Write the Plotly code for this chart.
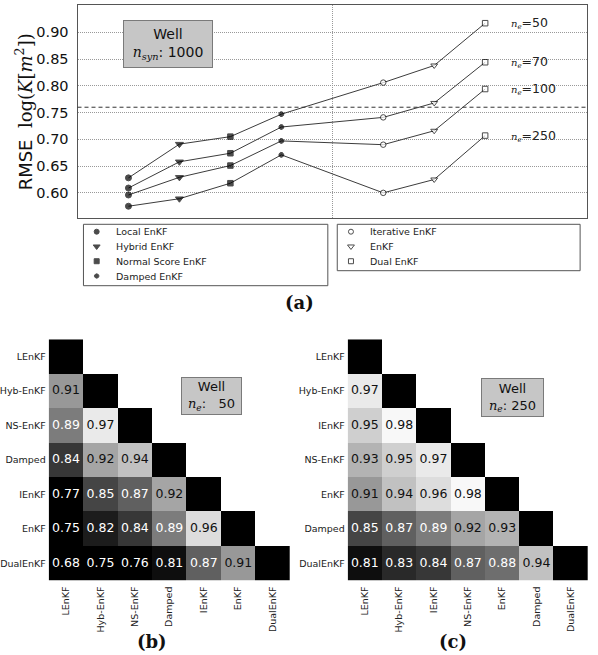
import plotly.graph_objects as go

# tamanho da figura (px)
W, H = 598, 655

# Painel (a): RMSE de log(K) por metodo, para cada tamanho de ensemble
metodos = ["Local EnKF", "Hybrid EnKF", "Normal Score EnKF", "Damped EnKF",
           "Iterative EnKF", "EnKF", "Dual EnKF"]
posicao_x = [1, 2, 3, 4, 6, 7, 8]
rotulos_ne = ["50", "70", "100", "250"]
rmse_ne50 = [0.628, 0.691, 0.705, 0.747, 0.806, 0.838, 0.917]
rmse_ne70 = [0.609, 0.658, 0.674, 0.723, 0.741, 0.768, 0.844]
rmse_ne100 = [0.596, 0.629, 0.651, 0.697, 0.690, 0.716, 0.794]
rmse_ne250 = [0.575, 0.589, 0.618, 0.671, 0.600, 0.625, 0.707]
rmse_referencia = 0.76
n_syn = 1000

# Painel (b): correlacao entre metodos, ne = 50 (triangulo inferior)
nomes_b = ["LEnKF", "Hyb-EnKF", "NS-EnKF", "Damped", "IEnKF", "EnKF", "DualEnKF"]
corr_b = [[0.91],
          [0.89, 0.97],
          [0.84, 0.92, 0.94],
          [0.77, 0.85, 0.87, 0.92],
          [0.75, 0.82, 0.84, 0.89, 0.96],
          [0.68, 0.75, 0.76, 0.81, 0.87, 0.91]]

# Painel (c): correlacao entre metodos, ne = 250
nomes_c = ["LEnKF", "Hyb-EnKF", "IEnKF", "NS-EnKF", "EnKF", "Damped", "DualEnKF"]
corr_c = [[0.97],
          [0.95, 0.98],
          [0.93, 0.95, 0.97],
          [0.91, 0.94, 0.96, 0.98],
          [0.85, 0.87, 0.89, 0.92, 0.93],
          [0.81, 0.83, 0.84, 0.87, 0.88, 0.94]]


def px(x):
    return x / W


def py(y):
    return 1 - y / H


# estilo dos marcadores (cheio = primeiros 4 metodos, vazado = ultimos 3)
simbolos = ["circle", "triangle-down", "square", "octagon",
            "circle", "triangle-down", "square"]
tamanhos = [6, 7, 5.5, 5, 5.5, 6, 5.5]
cores_marc = ["black"] * 4 + ["white"] * 3

fig = go.Figure()

series = [rmse_ne50, rmse_ne70, rmse_ne100, rmse_ne250]
for rot, vals in zip(rotulos_ne, series):
    fig.add_trace(go.Scatter(
        x=posicao_x, y=vals, mode="lines+markers", name="ne=" + rot,
        line=dict(color="#3c3c3c", width=1),
        marker=dict(symbol=simbolos, size=tamanhos, color=cores_marc,
                    line=dict(color="black", width=1)),
        xaxis="x", yaxis="y"))
    fig.add_annotation(
        x=posicao_x[-1], y=vals[-1], xref="x", yref="y", xanchor="left",
        yanchor="middle", xshift=24, showarrow=False,
        text='<span style="font-family:DejaVu Serif;font-size:10px"><i>n</i><sub><i>e</i></sub></span>=' + rot,
        font=dict(size=12.5, color="#222"))

fig.add_shape(type="line", xref="x domain", yref="y", x0=0, x1=1,
              y0=rmse_referencia, y1=rmse_referencia,
              line=dict(color="#333", width=1, dash="4px,3px"))


# Passo: montar as matrizes de correlacao
def matriz(nomes, tri):
    n = len(nomes)
    z = [[None] * n for _ in range(n)]
    diag = [[None] * n for _ in range(n)]
    for i in range(n):
        diag[i][i] = 1
    for i, linha in enumerate(tri, start=1):
        for j, v in enumerate(linha):
            z[i][j] = v
    return z, diag


for nomes, tri, ex, ey in [(nomes_b, corr_b, "x2", "y2"), (nomes_c, corr_c, "x3", "y3")]:
    z, diag = matriz(nomes, tri)
    fig.add_trace(go.Heatmap(
        x=nomes, y=nomes, z=z, zmin=0.80, zmax=0.985,
        colorscale=[[0, "black"], [1, "white"]], showscale=False,
        xaxis=ex, yaxis=ey, hoverongaps=False))
    fig.add_trace(go.Heatmap(
        x=nomes, y=nomes, z=diag, colorscale=[[0, "black"], [1, "black"]],
        showscale=False, xaxis=ex, yaxis=ey, hoverongaps=False))
    xs, ys, textos, cores = [], [], [], []
    for i, linha in enumerate(tri, start=1):
        for j, v in enumerate(linha):
            xs.append(nomes[j])
            ys.append(nomes[i])
            textos.append("%.2f" % v)
            cores.append("white" if v < 0.90 else "#111")
    fig.add_trace(go.Scatter(
        x=xs, y=ys, text=textos, mode="text",
        textfont=dict(size=12.5, color=cores), xaxis=ex, yaxis=ey))

# legenda desenhada num eixo escondido (duas caixas)
grupo_leg = [0, 0, 0, 0, 1, 1, 1]
linha_leg = [0, 1, 2, 3, 0, 1, 2]
tam_leg = [5, 6, 5, 4.5, 5, 6, 5]
fig.add_trace(go.Scatter(
    x=grupo_leg, y=linha_leg, mode="markers", cliponaxis=False,
    marker=dict(symbol=simbolos, size=tam_leg, color=cores_marc,
                line=dict(color="black", width=1)),
    xaxis="x4", yaxis="y4"))
for g, l, nome in zip(grupo_leg, linha_leg, metodos):
    fig.add_annotation(x=g, y=l, xref="x4", yref="y4", xanchor="left",
                       yanchor="middle", xshift=17, showarrow=False, text=nome,
                       font=dict(size=9.5, color="#222"))

fig.add_shape(type="rect", xref="paper", yref="paper",
              x0=px(80), x1=px(326), y0=py(285.7), y1=py(224.3),
              line=dict(color="#555", width=1))
fig.add_shape(type="rect", xref="paper", yref="paper",
              x0=px(335.5), x1=px(580), y0=py(270.7), y1=py(224.3),
              line=dict(color="#555", width=1))

# caixas de texto "Well"
caixa = dict(showarrow=False, xref="paper", yref="paper", bgcolor="#c6c6c6",
             bordercolor="#7a7a7a", borderwidth=1, borderpad=1, align="center",
             xanchor="center", yanchor="middle")
fig.add_annotation(
    x=px(165.5), y=py(44), width=86, height=44, font=dict(size=14, color="#111"),
    text='Well<br><span style="font-family:DejaVu Serif"><i>n</i><sub><i>syn</i></sub></span>: ' + str(n_syn),
    **caixa)
fig.add_annotation(
    x=px(209.3), y=py(396.3), width=57, height=34, font=dict(size=13, color="#111"),
    text='Well<br><span style="font-family:DejaVu Serif"><i>n</i><sub><i>e</i></sub></span>:   ' + rotulos_ne[0],
    **caixa)
fig.add_annotation(
    x=px(512), y=py(397), width=59, height=35, font=dict(size=13, color="#111"),
    text='Well<br><span style="font-family:DejaVu Serif"><i>n</i><sub><i>e</i></sub></span>: ' + rotulos_ne[-1],
    **caixa)

# titulo do eixo y e legendas (a), (b), (c)
fig.add_annotation(
    x=px(21), y=py(111.5), xref="paper", yref="paper", textangle=-90,
    xanchor="center", yanchor="middle",
    showarrow=False, font=dict(size=18, color="#111"),
    text='RMSE  <span style="font-family:DejaVu Serif">log(<i>K</i>[<i>m</i><sup>2</sup>])</span>')
for letra, cx, cy in [("(a)", 297, 302), ("(b)", 149, 641), ("(c)", 452, 641)]:
    fig.add_annotation(x=px(cx), y=py(cy), xref="paper", yref="paper",
                       xanchor="center", yanchor="middle",
                       showarrow=False, text="<b>" + letra + "</b>",
                       font=dict(family="DejaVu Serif", size=18, color="#111"))

grade = dict(showgrid=True, gridcolor="#999", griddash="1px,1px", gridwidth=1,
             zeroline=False, showline=True, linecolor="#555", linewidth=1,
             mirror=True, ticks="")
eixo_heat = dict(showgrid=False, zeroline=False, showline=False, ticks="",
                 tickfont=dict(size=9.5, color="#222"))

fig.update_layout(
    width=W, height=H, margin=dict(l=0, r=0, t=0, b=0),
    paper_bgcolor="white", plot_bgcolor="white", showlegend=False,
    font=dict(family="DejaVu Sans", color="#111"),
    xaxis=dict(domain=[px(74), px(587)], range=[0, 10], tickvals=[5],
               showticklabels=False, **grade),
    yaxis=dict(domain=[py(218), py(5)], range=[0.553, 0.951],
               tickvals=[0.60, 0.65, 0.70, 0.75, 0.80, 0.85, 0.90],
               tickformat=".2f", ticklabelstandoff=5,
               tickfont=dict(size=14.5, color="#111"), **grade),
    xaxis2=dict(domain=[px(45), px(288)], anchor="y2", tickangle=-90,
                ticklabelstandoff=3, categoryorder="array", categoryarray=nomes_b,
                **eixo_heat),
    yaxis2=dict(domain=[py(580.7), py(339.3)], anchor="x2", autorange="reversed",
                ticklabelstandoff=2, categoryorder="array", categoryarray=nomes_b,
                **eixo_heat),
    xaxis3=dict(domain=[px(346), px(588)], anchor="y3", tickangle=-90,
                ticklabelstandoff=3, categoryorder="array", categoryarray=nomes_c,
                **eixo_heat),
    yaxis3=dict(domain=[py(580.7), py(339.3)], anchor="x3", autorange="reversed",
                ticklabelstandoff=2, categoryorder="array", categoryarray=nomes_c,
                **eixo_heat),
    xaxis4=dict(domain=[px(93.3), px(349.3)], anchor="y4", range=[0, 1], visible=False),
    yaxis4=dict(domain=[py(276), py(231.7)], anchor="x4", range=[3, 0], visible=False),
)

# tira a margem padrao do body para a figura ocupar a janela toda
fig.write_html("out.html", config={"displayModeBar": False},
               post_script="document.body.style.margin='0px';")
